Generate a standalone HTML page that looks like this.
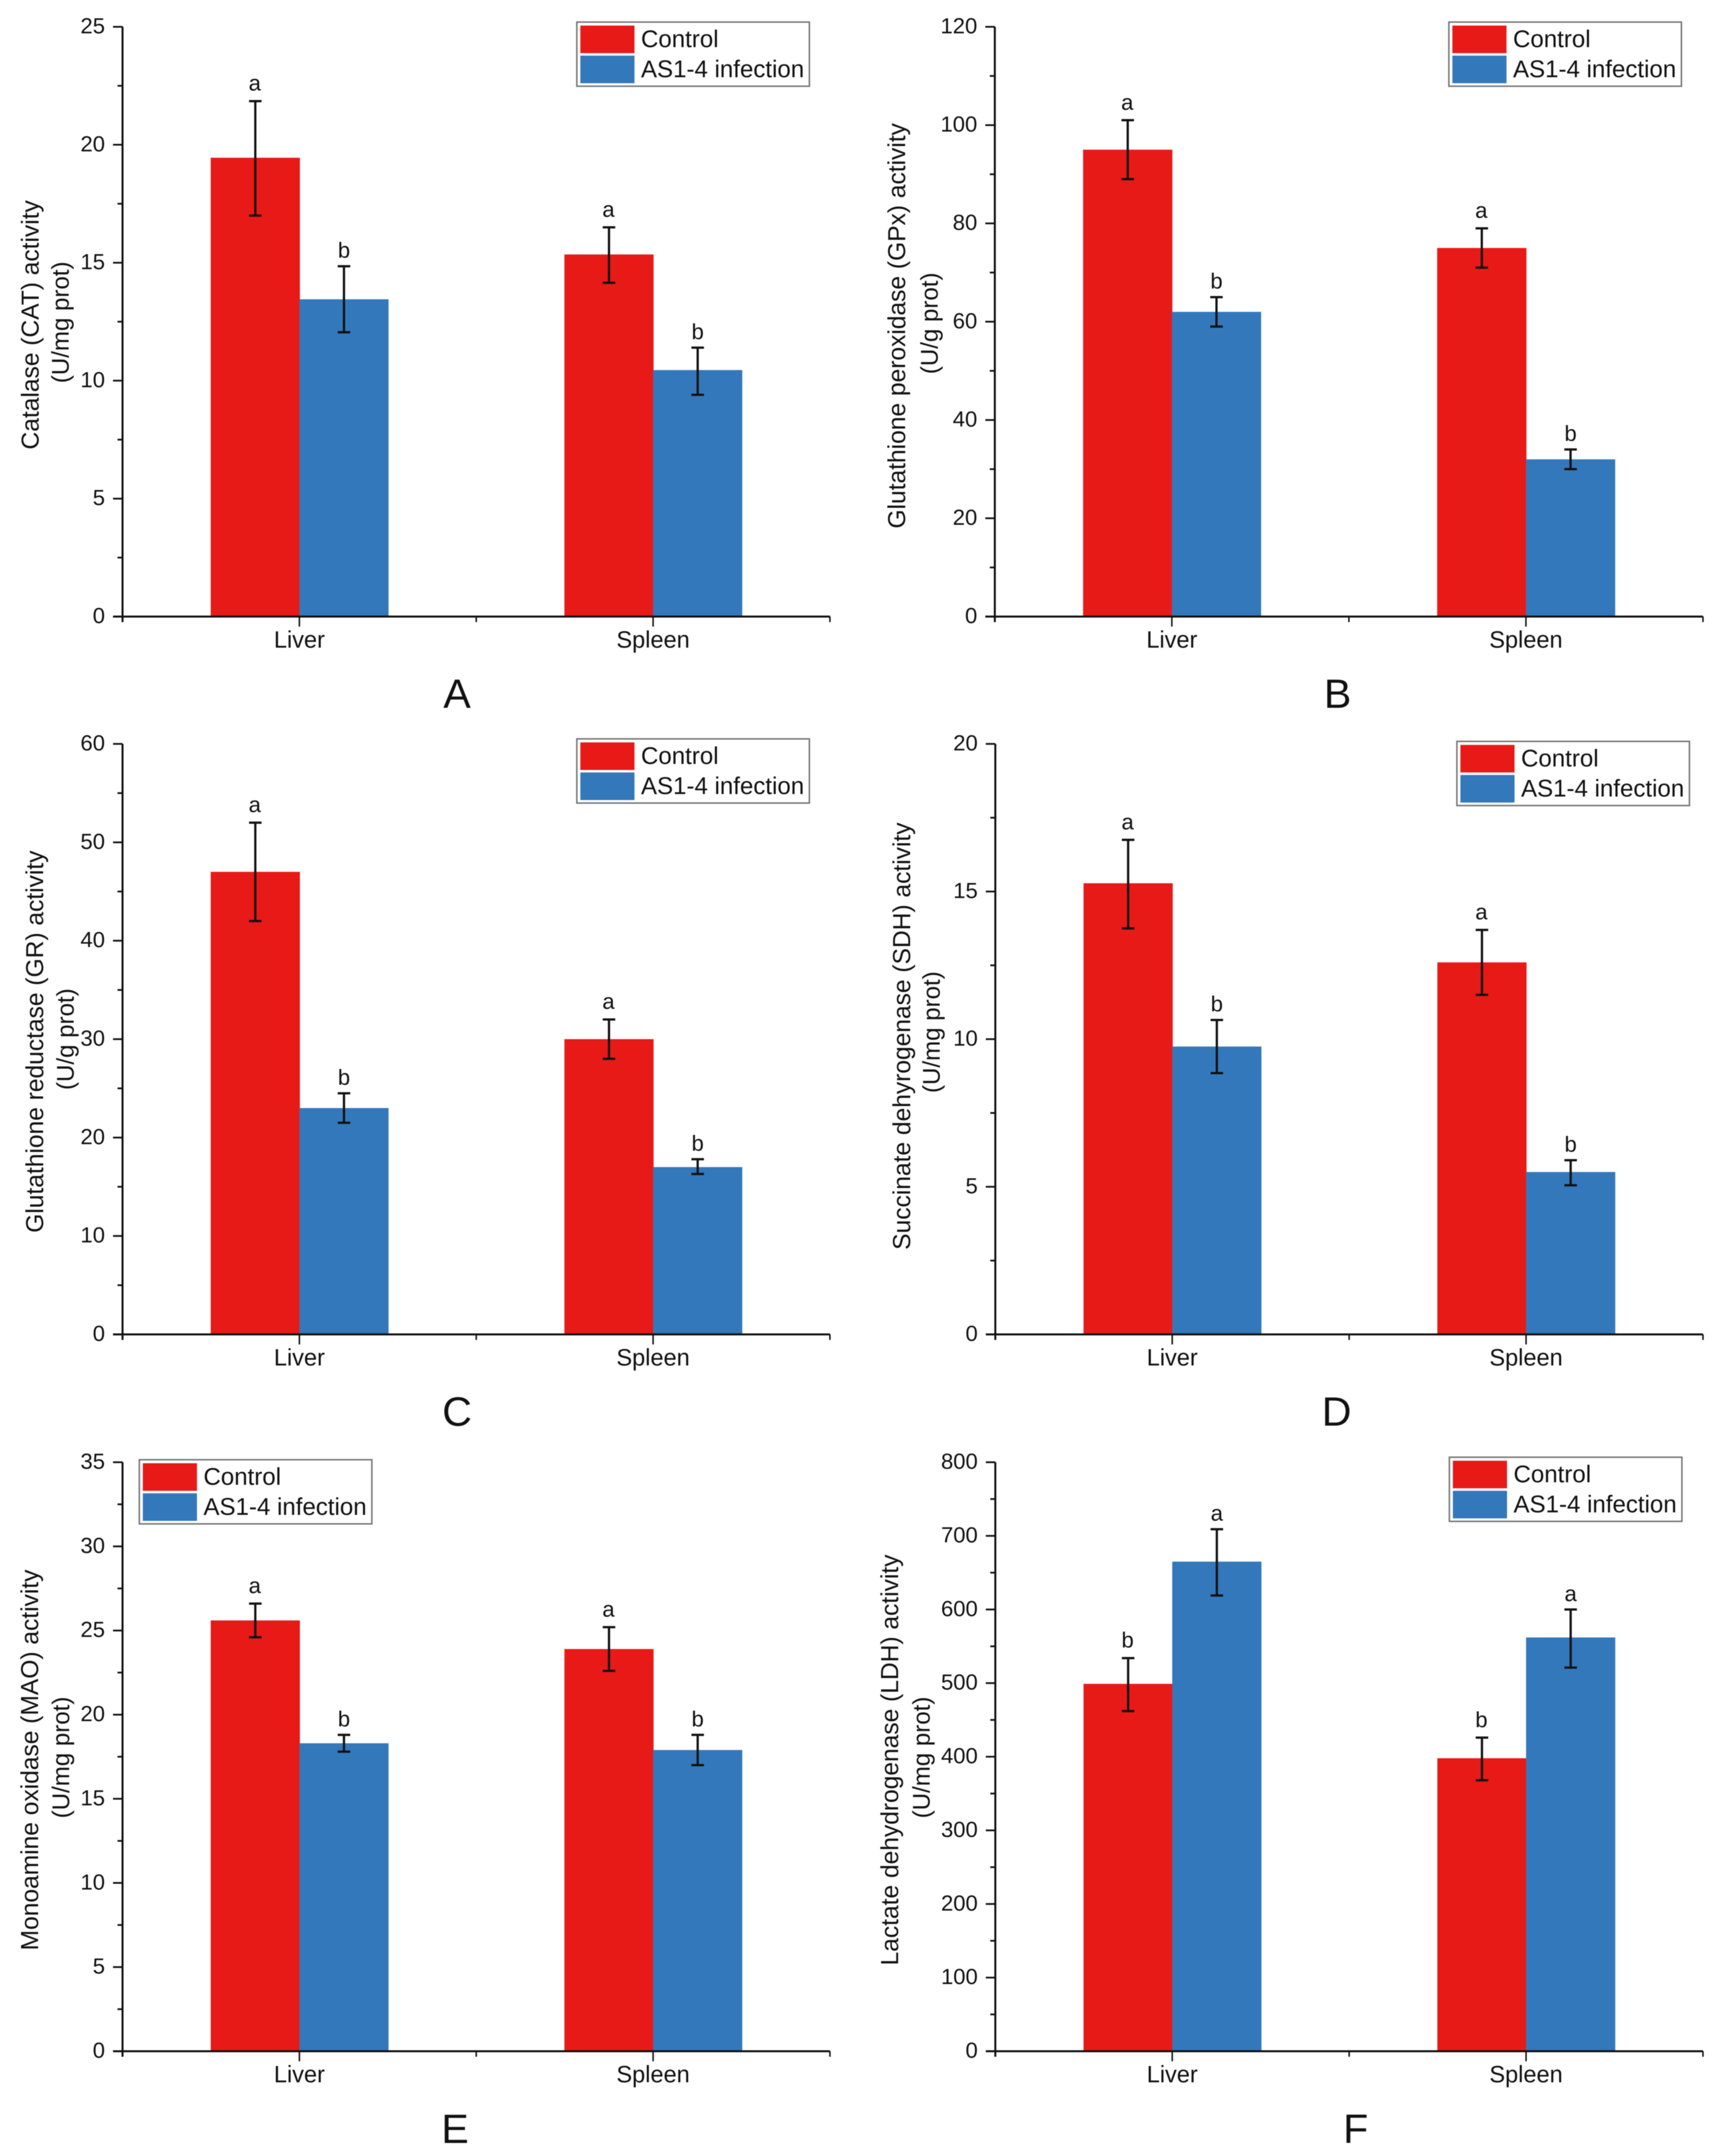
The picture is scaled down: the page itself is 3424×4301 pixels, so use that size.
<!DOCTYPE html>
<html lang="en">
<head>
<meta charset="utf-8">
<title>Enzyme activity bar charts</title>
<style>
html,body{margin:0;padding:0;background:#fff;}
#figure{display:block;width:3424px;height:4301px;filter:blur(0.7px);}
text{font-family:"Liberation Sans",sans-serif;fill:#111;}
</style>
</head>
<body>
<svg id="figure" xmlns="http://www.w3.org/2000/svg" width="3424" height="4301" viewBox="0 0 3424 4301"></svg>
<script>
const categories = ['Liver', 'Spleen'];
const seriesNames = ['Control', 'AS1-4 infection'];

const catTicks = [0, 5, 10, 15, 20, 25];
const catControl = [19.45, 15.35];
const catInfection = [13.45, 10.45];
const catControlHigh = [21.85, 16.5];
const catControlLow = [17.0, 14.15];
const catInfectionHigh = [14.85, 11.4];
const catInfectionLow = [12.05, 9.4];
const catControlLetters = ['a', 'a'];
const catInfectionLetters = ['b', 'b'];

const gpxTicks = [0, 20, 40, 60, 80, 100, 120];
const gpxControl = [95, 75];
const gpxInfection = [62, 32];
const gpxControlHigh = [101, 79];
const gpxControlLow = [89, 71];
const gpxInfectionHigh = [65, 34];
const gpxInfectionLow = [59, 30];
const gpxControlLetters = ['a', 'a'];
const gpxInfectionLetters = ['b', 'b'];

const grTicks = [0, 10, 20, 30, 40, 50, 60];
const grControl = [47, 30];
const grInfection = [23, 17];
const grControlHigh = [52, 32];
const grControlLow = [42, 28];
const grInfectionHigh = [24.5, 17.8];
const grInfectionLow = [21.5, 16.3];
const grControlLetters = ['a', 'a'];
const grInfectionLetters = ['b', 'b'];

const sdhTicks = [0, 5, 10, 15, 20];
const sdhControl = [15.28, 12.6];
const sdhInfection = [9.75, 5.5];
const sdhControlHigh = [16.75, 13.7];
const sdhControlLow = [13.75, 11.5];
const sdhInfectionHigh = [10.65, 5.9];
const sdhInfectionLow = [8.85, 5.05];
const sdhControlLetters = ['a', 'a'];
const sdhInfectionLetters = ['b', 'b'];

const maoTicks = [0, 5, 10, 15, 20, 25, 30, 35];
const maoControl = [25.6, 23.9];
const maoInfection = [18.3, 17.9];
const maoControlHigh = [26.6, 25.2];
const maoControlLow = [24.6, 22.6];
const maoInfectionHigh = [18.8, 18.8];
const maoInfectionLow = [17.8, 17.0];
const maoControlLetters = ['a', 'a'];
const maoInfectionLetters = ['b', 'b'];

const ldhTicks = [0, 100, 200, 300, 400, 500, 600, 700, 800];
const ldhControl = [499, 398];
const ldhInfection = [665, 562];
const ldhControlHigh = [534, 426];
const ldhControlLow = [462, 368];
const ldhInfectionHigh = [709, 600];
const ldhInfectionLow = [619, 521];
const ldhControlLetters = ['b', 'b'];
const ldhInfectionLetters = ['a', 'a'];

const RED = '#E71A17';
const BLUE = '#3378BB';
const INK = '#111';
const svg = document.getElementById('figure');
const NS = 'http://www.w3.org/2000/svg';

function make(parent, tag, props, content) {
  const node = document.createElementNS(NS, tag);
  for (const key in props) node.setAttribute(key, props[key]);
  if (content !== undefined) node.textContent = content;
  parent.appendChild(node);
  return node;
}

function drawPanel(p) {
  const group = make(svg, 'g', {});
  
  

  const yMax = p.ticks[p.ticks.length - 1];
  const yAt = v => p.bottom - (v / yMax) * (p.bottom - p.top);
  const width = p.right - p.left;
  const xAt = i => p.left + width * (i + 0.5) / categories.length;
  const barW = width / 8 + 1.5;

  // bars and error bars
  categories.forEach((cat, i) => {
    [
      { name: 'control', color: RED, start: xAt(i) - barW + 1, labelShift: -1, gap: 21, v: p.control[i], hi: p.controlHigh[i], lo: p.controlLow[i], letter: p.controlLetters[i] },
      { name: 'infection', color: BLUE, start: xAt(i), labelShift: 0, gap: 17, v: p.infection[i], hi: p.infectionHigh[i], lo: p.infectionLow[i], letter: p.infectionLetters[i] }
    ].forEach(s => {
      const cx = s.start + barW / 2;
      const bar = make(group, 'rect', { x: s.start, y: yAt(s.v), width: barW, height: yAt(0) - yAt(s.v), fill: s.color });
      
      

      const err = make(group, 'path', {
        d: 'M' + cx + ' ' + yAt(s.hi) + 'V' + yAt(s.lo) +
           'M' + (cx - 12.5) + ' ' + yAt(s.hi) + 'H' + (cx + 12.5) +
           'M' + (cx - 12.5) + ' ' + yAt(s.lo) + 'H' + (cx + 12.5),
        stroke: INK, 'stroke-width': 4.5, fill: 'none'
      });
      
      

      const mark = make(group, 'text', { x: cx + s.labelShift, y: yAt(s.hi) - s.gap, 'font-size': 44, 'text-anchor': 'middle' }, s.letter);
      
      
    });
  });

  // y axis
  const yAxis = make(group, 'line', { x1: p.left, x2: p.left, y1: p.top, y2: p.bottom + 11, stroke: INK, 'stroke-width': 4 });
  
  

  p.ticks.forEach((t, i) => {
    const major = make(group, 'line', { x1: p.left - 19, x2: p.left, y1: yAt(t), y2: yAt(t), stroke: INK, 'stroke-width': 3.5 });
    
    

    const label = make(group, 'text', { x: p.left - 35, y: yAt(t) + 13, 'font-size': 44, 'text-anchor': 'end' }, t);
    
    

    if (i < p.ticks.length - 1) {
      const mid = (t + p.ticks[i + 1]) / 2;
      const minor = make(group, 'line', { x1: p.left - 10, x2: p.left, y1: yAt(mid), y2: yAt(mid), stroke: INK, 'stroke-width': 3.5 });
      
      
    }
  });

  // x axis
  const xAxis = make(group, 'line', { x1: p.left - 19, x2: p.right, y1: p.bottom, y2: p.bottom, stroke: INK, 'stroke-width': 4 });
  
  

  [p.left + width / 2, p.right].forEach(x => {
    const minor = make(group, 'line', { x1: x, x2: x, y1: p.bottom, y2: p.bottom + 11, stroke: INK, 'stroke-width': 3 });
    
    
  });

  categories.forEach((cat, i) => {
    const tick = make(group, 'line', { x1: xAt(i), x2: xAt(i), y1: p.bottom, y2: p.bottom + 20, stroke: INK, 'stroke-width': 3 });
    
    

    const label = make(group, 'text', { x: xAt(i), y: p.bottom + 62, 'font-size': 47, 'text-anchor': 'middle' }, cat);
    
    
  });

  // y-axis titles
  const title = make(group, 'text', { transform: 'translate(' + p.titleX + ' ' + p.titleY + ') rotate(-90)', 'font-size': 49, 'text-anchor': 'middle' }, p.title);
  
  

  const unit = make(group, 'text', { transform: 'translate(' + p.unitX + ' ' + p.unitY + ') rotate(-90)', 'font-size': 48, 'text-anchor': 'middle' }, p.unit);
  
  

  // legend
  const legend = make(group, 'g', {});
  
  

  const box = make(legend, 'rect', { x: p.legendX, y: p.legendY, width: 464, height: 128, fill: '#fff', stroke: '#777', 'stroke-width': 3 });
  
  

  seriesNames.forEach((name, i) => {
    const rowY = p.legendY + 7 + i * 60;
    const swatch = make(legend, 'rect', { x: p.legendX + 7, y: rowY, width: 108, height: 55, fill: i === 0 ? RED : BLUE });
    
    

    const entry = make(legend, 'text', { x: p.legendX + 128, y: p.legendY + 50 + i * 60, 'font-size': 48 }, name);
    
    
  });

  // panel letter
  const tag = make(group, 'text', { x: p.tagX, y: p.tagY, 'font-size': 82, 'text-anchor': 'middle' }, p.key);
  
  
}

drawPanel({
  key: 'A', ticks: catTicks, control: catControl, infection: catInfection,
  controlHigh: catControlHigh, controlLow: catControlLow, infectionHigh: catInfectionHigh, infectionLow: catInfectionLow,
  controlLetters: catControlLetters, infectionLetters: catInfectionLetters,
  title: 'Catalase (CAT) activity', unit: '(U/mg prot)',
  left: 244.5, right: 1656, top: 53.5, bottom: 1230,
  titleX: 77, unitX: 137, titleY: 648, unitY: 643, legendX: 1151, legendY: 44, tagX: 912, tagY: 1412
});
drawPanel({
  key: 'B', ticks: gpxTicks, control: gpxControl, infection: gpxInfection,
  controlHigh: gpxControlHigh, controlLow: gpxControlLow, infectionHigh: gpxInfectionHigh, infectionLow: gpxInfectionLow,
  controlLetters: gpxControlLetters, infectionLetters: gpxInfectionLetters,
  title: 'Glutathione peroxidase (GPx) activity', unit: '(U/g prot)',
  left: 1985, right: 3398, top: 53.5, bottom: 1230,
  titleX: 1806, unitX: 1871, titleY: 650, unitY: 645, legendX: 2891, legendY: 44, tagX: 2669, tagY: 1412
});
drawPanel({
  key: 'C', ticks: grTicks, control: grControl, infection: grInfection,
  controlHigh: grControlHigh, controlLow: grControlLow, infectionHigh: grInfectionHigh, infectionLow: grInfectionLow,
  controlLetters: grControlLetters, infectionLetters: grInfectionLetters,
  title: 'Glutathione reductase (GR) activity', unit: '(U/g prot)',
  left: 244.5, right: 1656, top: 1484, bottom: 2662,
  titleX: 86, unitX: 147, titleY: 2078, unitY: 2073, legendX: 1151, legendY: 1474, tagX: 912, tagY: 2844
});
drawPanel({
  key: 'D', ticks: sdhTicks, control: sdhControl, infection: sdhInfection,
  controlHigh: sdhControlHigh, controlLow: sdhControlLow, infectionHigh: sdhInfectionHigh, infectionLow: sdhInfectionLow,
  controlLetters: sdhControlLetters, infectionLetters: sdhInfectionLetters,
  title: 'Succinate dehyrogenase (SDH) activity', unit: '(U/mg prot)',
  left: 1986, right: 3398, top: 1484, bottom: 2662,
  titleX: 1816, unitX: 1875, titleY: 2067, unitY: 2059, legendX: 2907, legendY: 1479, tagX: 2667, tagY: 2844
});
drawPanel({
  key: 'E', ticks: maoTicks, control: maoControl, infection: maoInfection,
  controlHigh: maoControlHigh, controlLow: maoControlLow, infectionHigh: maoInfectionHigh, infectionLow: maoInfectionLow,
  controlLetters: maoControlLetters, infectionLetters: maoInfectionLetters,
  title: 'Monoamine oxidase (MAO) activity', unit: '(U/mg prot)',
  left: 244.5, right: 1656, top: 2917, bottom: 4092,
  titleX: 76, unitX: 138, titleY: 3511, unitY: 3506, legendX: 278, legendY: 2912, tagX: 908, tagY: 4275
});
drawPanel({
  key: 'F', ticks: ldhTicks, control: ldhControl, infection: ldhInfection,
  controlHigh: ldhControlHigh, controlLow: ldhControlLow, infectionHigh: ldhInfectionHigh, infectionLow: ldhInfectionLow,
  controlLetters: ldhControlLetters, infectionLetters: ldhInfectionLetters,
  title: 'Lactate dehydrogenase (LDH) activity', unit: '(U/mg prot)',
  left: 1986, right: 3398, top: 2917, bottom: 4092,
  titleX: 1792, unitX: 1855, titleY: 3511, unitY: 3506, legendX: 2892, legendY: 2907, tagX: 2705, tagY: 4275
});
</script>
</body>
</html>
